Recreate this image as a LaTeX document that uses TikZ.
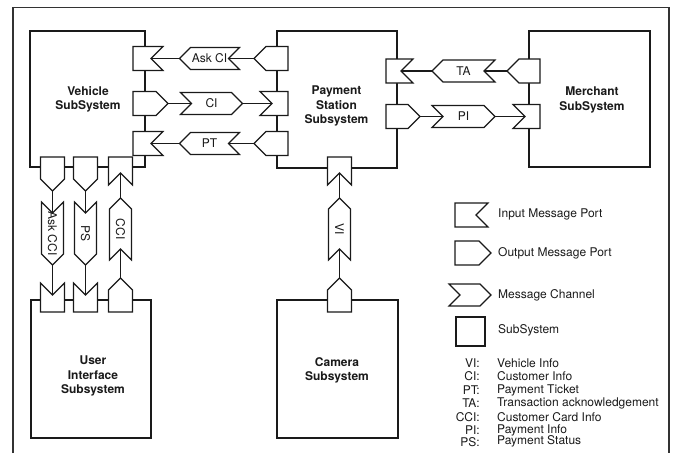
\documentclass[tikz,border=0pt]{standalone}
\usepackage{fontspec}
\setmainfont{TeX Gyre Heros}
\usetikzlibrary{calc}

\definecolor{ink}{HTML}{1A1A1A}
\definecolor{frameink}{HTML}{333333}

\tikzset{
  chrot/.store in=\chrot, chrot=0,
  shp/.style={draw=ink, line width=1.1pt, fill=white, line join=miter},
  wire/.style={draw=ink, line width=1.1pt},
  txt/.style={font=\fontsize{12}{14.5}\selectfont, inner sep=0pt, text=ink},
  title/.style={txt, font=\fontsize{12}{14.5}\selectfont\bfseries, align=center},
  subsys/.style={shp, inner sep=0pt},
  % input message port: notch on the outer face (local +x)
  pics/inport/.style={code={
    \draw[shp] (-#1,-12) -- (0,-12) -- (-12,0) -- (0,12) -- (-#1,12) -- cycle;
    \coordinate (-n) at (-12,0);
  }},
  % output message port: point on the outer face (local +x)
  pics/outport/.style={code={
    \draw[shp] (-#1,-12) -- (-12,-12) -- (0,0) -- (-12,12) -- (-#1,12) -- cycle;
    \coordinate (-t) at (0,0);
  }},
  % message channel pointing along local +x, label and length
  pics/chan/.style 2 args={code={
    \draw[shp] (-#2/2,-11) -- (#2/2-11,-11) -- (#2/2,0) -- (#2/2-11,11)
               -- (-#2/2,11) -- (-#2/2+11,0) -- cycle;
    \coordinate (-t) at (#2/2,0);
    \coordinate (-n) at (-#2/2+11,0);
    \node[txt, rotate=\chrot] (-l) at (0,0) {#1};
  }},
}

\begin{document}
\begin{tikzpicture}[x=1pt, y=-1pt]
\useasboundingbox (0,0) rectangle (675,453);

% outer frame
\draw[frameink, line width=1.3pt] (13,453) -- (13,7.5) -- (669,7.5) -- (669,453);

% subsystems
\node[subsys, minimum width=115, minimum height=136] (veh) at (87.5,99) {};
\node[subsys, minimum width=120, minimum height=137] (pay) at (337,99.5) {};
\node[subsys, minimum width=121, minimum height=136] (mer) at (589.5,99) {};
\node[subsys, minimum width=120, minimum height=138] (ui)  at (91,369) {};
\node[subsys, minimum width=121, minimum height=138] (cam) at (337.5,369) {};

\node[title] (vehT) at (88,99.5)  {Vehicle\\SubSystem};
\node[title] (payT) at (336.5,106) {Payment\\Station\\Subsystem};
\node[title] (merT) at (592,100)  {Merchant\\SubSystem};
\node[title] (uiT)  at (93,376)   {User\\Interface\\Subsystem};
\node[title] (camT) at (337,370.5) {Camera\\Subsystem};

% vehicle <-> payment station
\pic[rotate=0]   (vaskci) at (163,58.5)  {inport=30};
\pic[rotate=0]   (vci)    at (168,103.5) {outport=35};
\pic[rotate=0]   (vpt)    at (163,143.5) {inport=30};
\pic[rotate=180] (paskci) at (254,58.5)  {outport=34};
\pic[rotate=180] (pci)    at (260,103.5) {inport=28};
\pic[rotate=180] (ppt)    at (254,143.5) {outport=34};
\pic[rotate=180] (caskci) at (209.5,58.5) {chan={Ask CI}{60}};
\pic[rotate=0]   (cci)    at (211.5,103.5) {chan={CI}{62}};
\pic[rotate=180] (cpt)    at (209.5,143.5) {chan={PT}{60}};

% payment station <-> merchant
\pic[rotate=0]   (pta) at (413,71)    {inport=27};
\pic[rotate=180] (mta) at (507,71)    {outport=33};
\pic[rotate=180] (cta) at (463.5,71)  {chan={TA}{63}};
\pic[rotate=0]   (ppi) at (420,116.5) {outport=34};
\pic[rotate=180] (mpi) at (513,116.5) {inport=27};
\pic[rotate=0]   (cpi) at (463.5,116.5) {chan={PI}{63}};

% vehicle <-> user interface
\pic[rotate=-90] (vaskcci) at (52.5,191)  {outport=34};
\pic[rotate=-90] (vps)     at (85.5,191)  {outport=34};
\pic[rotate=-90] (vcci)    at (120.5,185) {inport=28};
\pic[rotate=90]  (uaskcci) at (52.5,283)  {inport=29};
\pic[rotate=90]  (ups)     at (85.5,283)  {inport=29};
\pic[rotate=90]  (ucci)    at (120.5,278) {outport=34};
\pic[rotate=-90, chrot=-90] (caskcci) at (52.5,233.5) {chan={Ask CCI}{63}};
\pic[rotate=-90, chrot=-90] (cps)     at (85.5,233.5) {chan={PS}{63}};
\pic[rotate=90,  chrot=-90] (ccci)    at (120.5,229)  {chan={CCI}{62}};

% camera -> payment station
\pic[rotate=-90] (pvi) at (339.5,185) {inport=28};
\pic[rotate=90]  (kvi) at (339.5,278) {outport=34};
\pic[rotate=90, chrot=-90] (cvi) at (339.5,229) {chan={VI}{62}};

% connectors
\draw[wire] (vaskci-n) -- (caskci-t);
\draw[wire] (caskci-n) -- (paskci-t);
\draw[wire] (vci-t) -- (cci-n);
\draw[wire] (cci-t) -- (pci-n);
\draw[wire] (vpt-n) -- (cpt-t);
\draw[wire] (cpt-n) -- (ppt-t);
\draw[wire] (pta-n) -- (cta-t);
\draw[wire] (cta-n) -- (mta-t);
\draw[wire] (ppi-t) -- (cpi-n);
\draw[wire] (cpi-t) -- (mpi-n);
\draw[wire] (vaskcci-t) -- (caskcci-n);
\draw[wire] (caskcci-t) -- (uaskcci-n);
\draw[wire] (vps-t) -- (cps-n);
\draw[wire] (cps-t) -- (ups-n);
\draw[wire] (ucci-t) -- (ccci-n);
\draw[wire] (ccci-t) -- (vcci-n);
\draw[wire] (kvi-t) -- (cvi-n);
\draw[wire] (cvi-t) -- (pvi-n);

% legend
\pic (lin)  at (488,215) {inport=33};
\pic (lout) at (491,253) {outport=36};
\pic (lch)  at (470,295) {chan={}{42}};
\node[subsys, minimum width=29, minimum height=29] (lsub) at (470.5,331.5) {};
\node[txt, anchor=west] (linT)  at (498,214) {Input Message Port};
\node[txt, anchor=west] (loutT) at (498,253) {Output Message Port};
\node[txt, anchor=west] (lchT)  at (498,295) {Message Channel};
\node[txt, anchor=west] (lsubT) at (498,330) {SubSystem};

% abbreviations
\foreach \ab/\desc/\yy [count=\i] in {VI:/Vehicle Info/363.3, CI:/Customer Info/375.7,
    PT:/Payment Ticket/390, TA:/Transaction acknowledgement/403.3,
    CCI:/Customer Card Info/416.7, PI:/Payment Info/430, PS:/Payment Status/441.7}{
  \node[txt, anchor=east] (ab\i) at (480,\yy) {\ab};
  \node[txt, anchor=west] (de\i) at (497,\yy) {\desc};
}
\end{tikzpicture}
\end{document}
